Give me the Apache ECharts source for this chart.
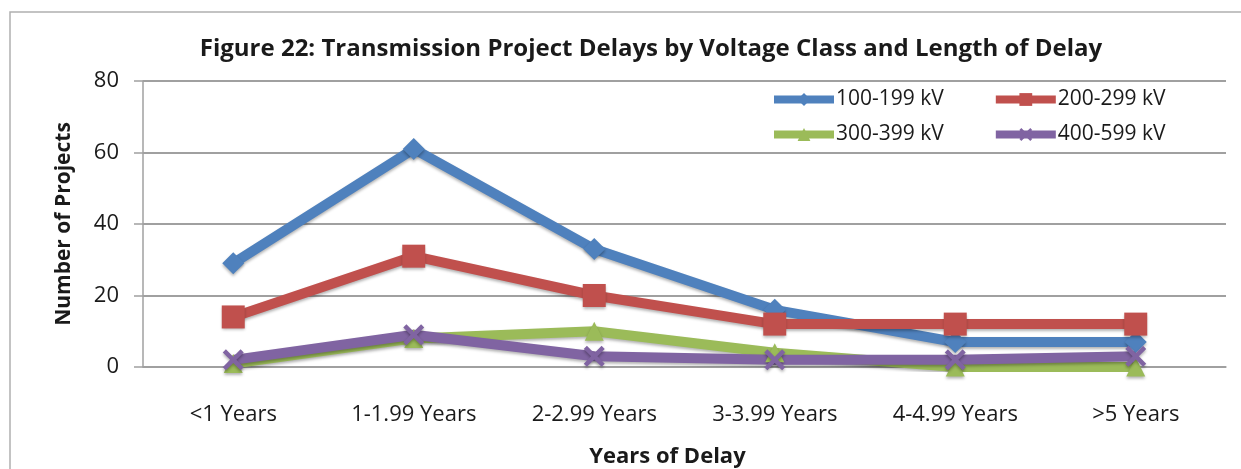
<!DOCTYPE html>
<html>
<head>
<meta charset="utf-8">
<script src="https://cdn.jsdelivr.net/npm/echarts@6/dist/echarts.min.js"></script>
<style>
  html, body { margin: 0; padding: 0; background: #fff; }
  #chart { width: 1241px; height: 469px; }
</style>
</head>
<body>
<div id="chart"></div>
<script>
const categories = ['<1 Years', '1-1.99 Years', '2-2.99 Years', '3-3.99 Years', '4-4.99 Years', '>5 Years']
const kv100 = [29, 61, 33, 16, 7, 7]
const kv200 = [14, 31, 20, 12, 12, 12]
const kv300 = [1, 8, 10, 4, 0, 0]
const kv400 = [2, 9, 3, 2, 2, 3]
const yTicks = [0, 20, 40, 60, 80]

const FONT = '"Open Sans", Lato, sans-serif'
const crossPath = 'path://M0,1.5 L1.5,0 L5,3.5 L8.5,0 L10,1.5 L6.5,5 L10,8.5 L8.5,10 L5,6.5 L1.5,10 L0,8.5 L3.5,5 Z'

const shadow = { shadowColor: 'rgba(0,0,0,0.3)', shadowBlur: 3, shadowOffsetY: 2 }

function line(name, data, color, symbol, size) {
  return {
    name,
    type: 'line',
    data,
    symbol,
    symbolSize: size,
    lineStyle: { color, width: 10, ...shadow },
    itemStyle: { color, ...shadow },
    emphasis: { disabled: true },
  }
}

const legendBase = {
  left: 765,
  itemWidth: 60,
  itemHeight: 16,
  itemGap: 48,
  lineStyle: { width: 8 },
  textStyle: { fontFamily: FONT, fontSize: 21, color: '#1a1a1a', padding: [0, 0, 0, -3] },
}

const chart = echarts.init(document.getElementById('chart'))
chart.setOption({
  animation: false,
  title: {
    text: 'Figure 22: Transmission Project Delays by Voltage Class and Length of Delay',
    left: 646,
    top: 32,
    textAlign: 'center',
    textStyle: { fontFamily: FONT, fontWeight: 'bold', fontSize: 24, color: '#1a1a1a' },
  },
  graphic: [
    {
      type: 'rect',
      shape: { x: 10, y: 12, width: 1400, height: 600 },
      style: { fill: 'none', stroke: '#b0b0b0', lineWidth: 1.5 },
      silent: true,
    },
  ],
  legend: [
    { ...legendBase, data: ['100-199 kV', '200-299 kV'], top: 84 },
    { ...legendBase, data: ['300-399 kV', '400-599 kV'], top: 119 },
  ],
  grid: { left: 143, right: 15, top: 81, bottom: 102, outerBoundsMode: 'none' },
  xAxis: {
    type: 'category',
    data: categories,
    boundaryGap: true,
    name: 'Years of Delay',
    nameLocation: 'middle',
    nameGap: 79,
    nameTextStyle: { fontFamily: FONT, fontWeight: 'bold', fontSize: 22, color: '#1a1a1a', padding: [0, 34, 0, 0] },
    axisLine: { lineStyle: { color: '#a0a0a0', width: 1.5 } },
    axisTick: { length: 8, lineStyle: { color: '#a0a0a0', width: 1.5 } },
    axisLabel: { fontFamily: FONT, fontSize: 22, color: '#1a1a1a', margin: 37 },
  },
  yAxis: {
    type: 'value',
    min: yTicks[0],
    max: yTicks[yTicks.length - 1],
    interval: 20,
    name: 'Number of Projects',
    nameLocation: 'middle',
    nameGap: 68,
    nameRotate: 90,
    nameTextStyle: { fontFamily: FONT, fontWeight: 'bold', fontSize: 21, color: '#1a1a1a' },
    axisLine: { show: true, lineStyle: { color: '#a0a0a0', width: 1.5 } },
    axisTick: { show: true, length: 9, lineStyle: { color: '#a0a0a0', width: 1.5 } },
    axisLabel: { fontFamily: FONT, fontSize: 22, color: '#1a1a1a', margin: 24 },
    splitLine: { lineStyle: { color: '#a0a0a0', width: 2 } },
  },
  series: [
    line('100-199 kV', kv100, '#4f81bd', 'diamond', 22),
    line('200-299 kV', kv200, '#c0504d', 'rect', 23),
    line('300-399 kV', kv300, '#9bbb59', 'triangle', 19),
    line('400-599 kV', kv400, '#8064a2', crossPath, 21),
  ],
})
</script>
</body>
</html>
